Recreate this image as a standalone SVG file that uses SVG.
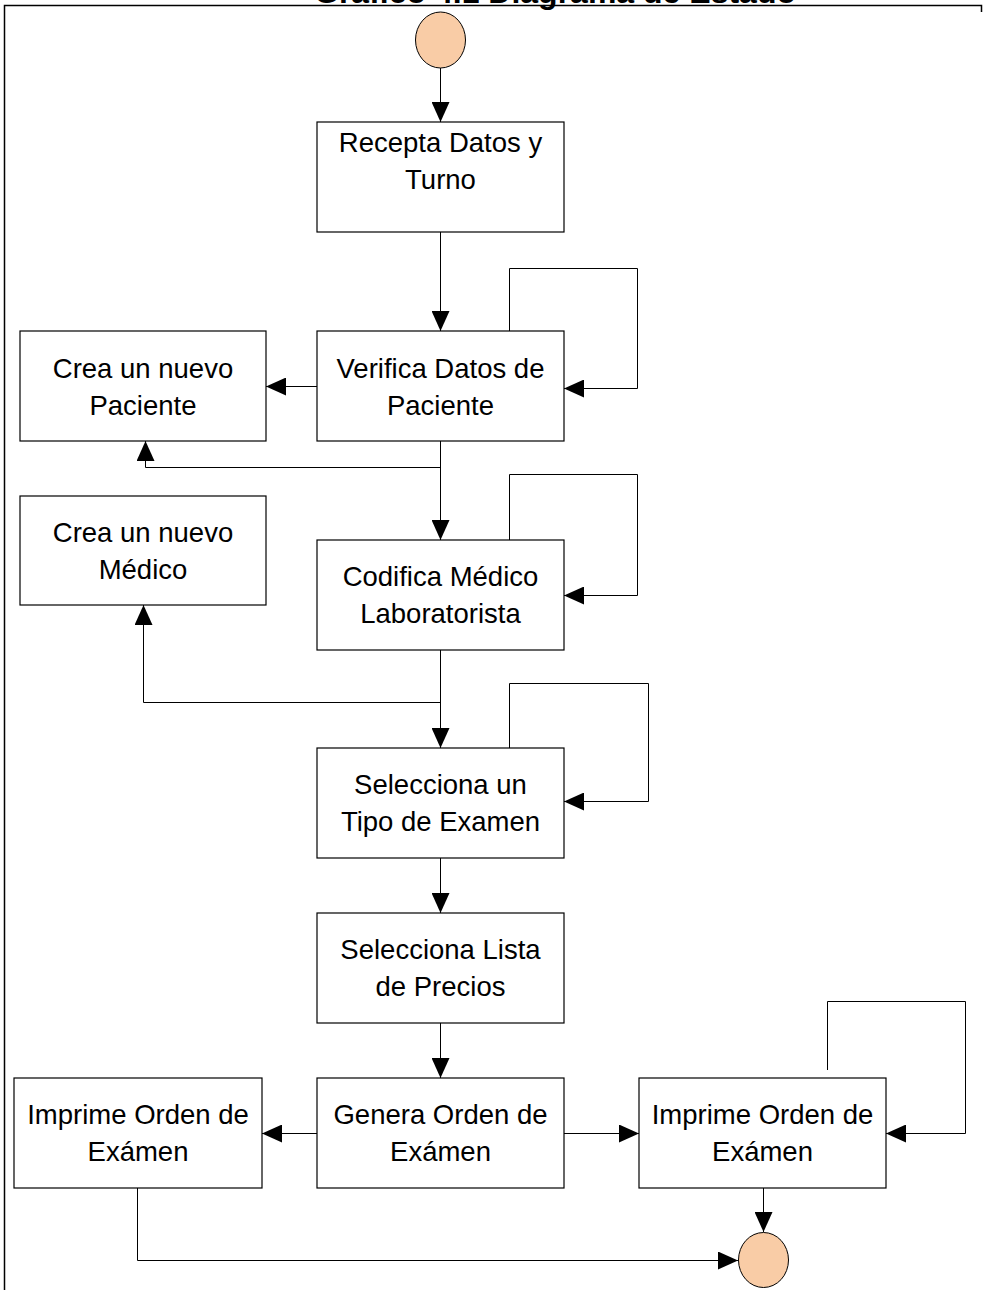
<svg xmlns="http://www.w3.org/2000/svg" width="983" height="1290" viewBox="0 0 983 1290">
  <style>
    .box { fill: #ffffff; stroke: #000000; stroke-width: 1.2; }
    .term { fill: #f9cca6; stroke: #000000; stroke-width: 1; }
    .lbl { font-family: "Liberation Sans", Arial, sans-serif; font-size: 27.5px; fill: #000000; text-anchor: middle; }
    .title { font-family: "Liberation Sans", Arial, sans-serif; font-size: 32px; font-weight: bold; fill: #000000; text-anchor: middle; }
    .edge { fill: none; stroke: #000000; stroke-width: 1; }
    .frame { fill: none; stroke: #000000; stroke-width: 1.5; }
  </style>
  <defs>
    <marker id="arrow" viewBox="0 0 20 18" refX="20" refY="9" markerWidth="20" markerHeight="18" markerUnits="userSpaceOnUse" orient="auto">
      <path d="M0,0 L20,9 L0,18 Z" fill="#000000"/>
    </marker>
  </defs>

  <rect width="983" height="1290" fill="#ffffff"/>

  <!-- page frame and clipped heading -->
  <g id="frame">
    <text class="title" x="555" y="2.5">Gráfico 4.1 Diagrama de Estado</text>
    <path class="frame" d="M4.5,1290 V5.5 H981.5 V12"/>
  </g>

  <!-- connectors -->
  <g id="connectors">
    <path class="edge" d="M440.5,68 V122" marker-end="url(#arrow)"/>
    <path class="edge" d="M440.5,232 V331" marker-end="url(#arrow)"/>
    <path class="edge" d="M509.5,331 V268.5 H637.5 V388.5 H564" marker-end="url(#arrow)"/>
    <path class="edge" d="M317,386.5 H266" marker-end="url(#arrow)"/>
    <path class="edge" d="M440.5,441 V540" marker-end="url(#arrow)"/>
    <path class="edge" d="M440.5,467.5 H145.5 V441" marker-end="url(#arrow)"/>
    <path class="edge" d="M509.5,540 V474.5 H637.5 V595.5 H564" marker-end="url(#arrow)"/>
    <path class="edge" d="M440.5,650 V748" marker-end="url(#arrow)"/>
    <path class="edge" d="M440.5,702.5 H143.5 V605" marker-end="url(#arrow)"/>
    <path class="edge" d="M509.5,753 V683.5 H648.5 V801.5 H564" marker-end="url(#arrow)"/>
    <path class="edge" d="M440.5,858 V913" marker-end="url(#arrow)"/>
    <path class="edge" d="M440.5,1023 V1078" marker-end="url(#arrow)"/>
    <path class="edge" d="M317,1133.5 H262" marker-end="url(#arrow)"/>
    <path class="edge" d="M564,1133.5 H639" marker-end="url(#arrow)"/>
    <path class="edge" d="M827.5,1070 V1001.5 H965.5 V1133.5 H886" marker-end="url(#arrow)"/>
    <path class="edge" d="M763.5,1188 V1232" marker-end="url(#arrow)"/>
    <path class="edge" d="M137.5,1188 V1260.5 H738" marker-end="url(#arrow)"/>
  </g>

  <!-- initial state -->
  <g id="start">
    <ellipse class="term" cx="440.5" cy="40" rx="25" ry="28"/>
  </g>

  <g id="recepta">
    <rect class="box" x="317" y="122" width="247" height="110"/>
    <text class="lbl" x="440.5" y="152">Recepta Datos y</text>
    <text class="lbl" x="440.5" y="189">Turno</text>
  </g>

  <g id="verifica">
    <rect class="box" x="317" y="331" width="247" height="110"/>
    <text class="lbl" x="440.5" y="378">Verifica Datos de</text>
    <text class="lbl" x="440.5" y="415">Paciente</text>
  </g>

  <g id="nuevo-paciente">
    <rect class="box" x="20" y="331" width="246" height="110"/>
    <text class="lbl" x="143" y="378">Crea un nuevo</text>
    <text class="lbl" x="143" y="415">Paciente</text>
  </g>

  <g id="nuevo-medico">
    <rect class="box" x="20" y="496" width="246" height="109"/>
    <text class="lbl" x="143" y="542">Crea un nuevo</text>
    <text class="lbl" x="143" y="579">Médico</text>
  </g>

  <g id="codifica">
    <rect class="box" x="317" y="540" width="247" height="110"/>
    <text class="lbl" x="440.5" y="586">Codifica Médico</text>
    <text class="lbl" x="440.5" y="623">Laboratorista</text>
  </g>

  <g id="tipo-examen">
    <rect class="box" x="317" y="748" width="247" height="110"/>
    <text class="lbl" x="440.5" y="794">Selecciona un</text>
    <text class="lbl" x="440.5" y="831">Tipo de Examen</text>
  </g>

  <g id="lista-precios">
    <rect class="box" x="317" y="913" width="247" height="110"/>
    <text class="lbl" x="440.5" y="959">Selecciona Lista</text>
    <text class="lbl" x="440.5" y="996">de Precios</text>
  </g>

  <g id="genera-orden">
    <rect class="box" x="317" y="1078" width="247" height="110"/>
    <text class="lbl" x="440.5" y="1124">Genera Orden de</text>
    <text class="lbl" x="440.5" y="1161">Exámen</text>
  </g>

  <g id="imprime-izq">
    <rect class="box" x="14" y="1078" width="248" height="110"/>
    <text class="lbl" x="138" y="1124">Imprime Orden de</text>
    <text class="lbl" x="138" y="1161">Exámen</text>
  </g>

  <g id="imprime-der">
    <rect class="box" x="639" y="1078" width="247" height="110"/>
    <text class="lbl" x="762.5" y="1124">Imprime Orden de</text>
    <text class="lbl" x="762.5" y="1161">Exámen</text>
  </g>

  <!-- final state -->
  <g id="end">
    <ellipse class="term" cx="763.5" cy="1260" rx="25" ry="27.5"/>
  </g>
</svg>
